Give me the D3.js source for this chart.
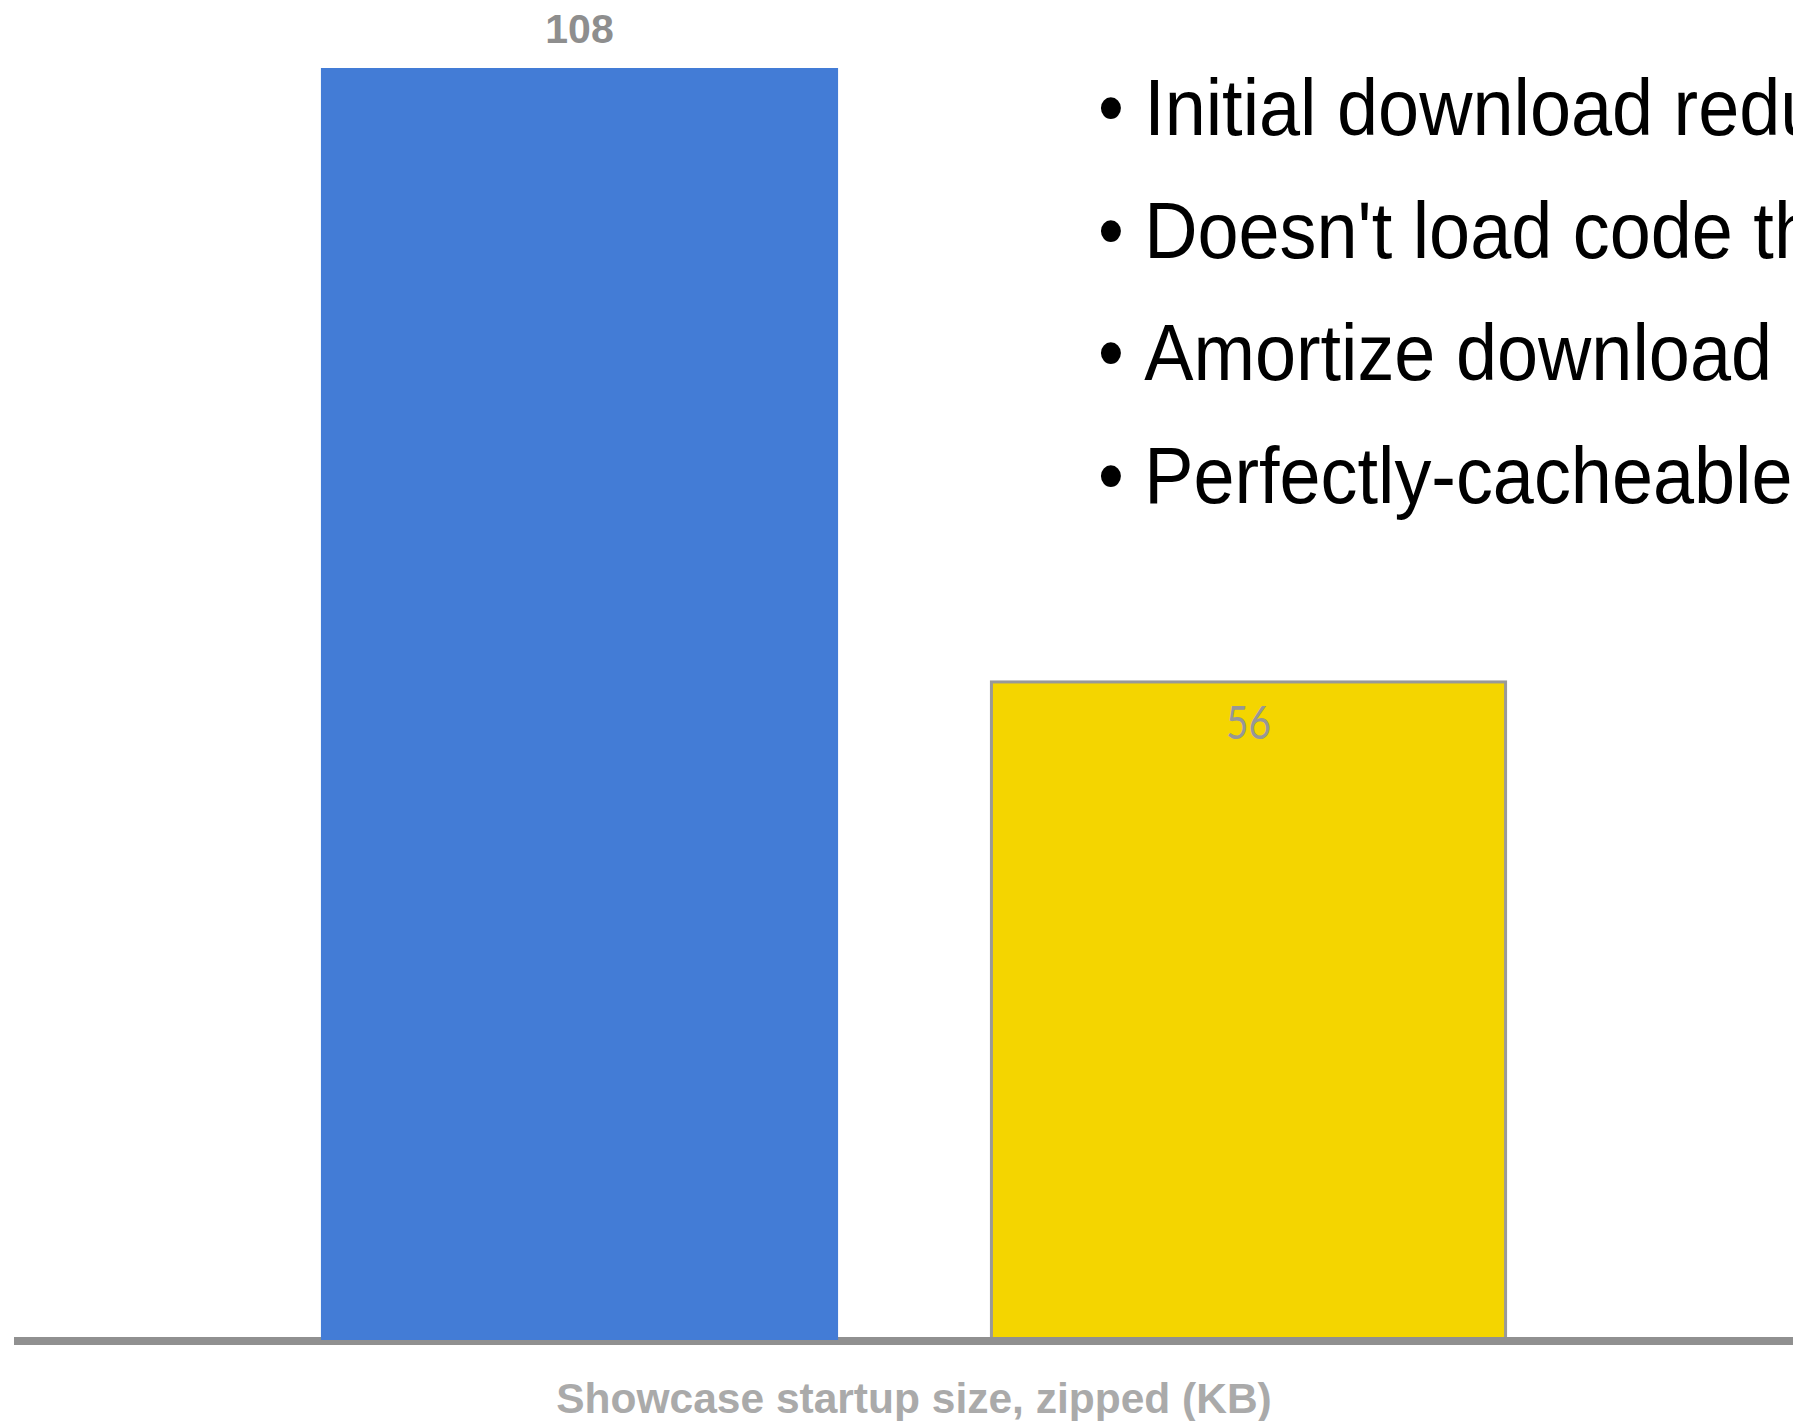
<!DOCTYPE html>
<html>
<head>
<meta charset="utf-8">
<script src="https://cdn.jsdelivr.net/npm/d3@7/dist/d3.min.js"></script>
<style>
  html, body { margin: 0; padding: 0; background: #fff; overflow: hidden; }
  svg { display: block; }
</style>
</head>
<body>
<div id="chart"></div>
<script>
var categories = ['Before', 'After'];
var values = [108, 56];
var valueLabels = ['108', '56'];
var bullets = [
    'Initial download reduced',
    "Doesn't load code that isn't needed",
    'Amortize download over app lifetime',
    'Perfectly-cacheable fragments'
];
var axisTitle = 'Showcase startup size, zipped (KB)';

var width = 1793;
var height = 1421;
var baseY = 1340;

var svg = d3.select('#chart')
    .append('svg')
    .attr('width', width)
    .attr('height', height);

var x = d3.scaleBand()
    .domain(categories)
    .range([245, 1583])
    .paddingInner(0.227)
    .paddingOuter(0.1135);

var y = d3.scaleLinear()
    .domain([0, 108])
    .range([baseY, 68]);

// yellow bar first, it sits under the axis line
svg.append('rect')
    .attr('x', x(categories[1]) + 1.5)
    .attr('y', y(values[1]) + 1.5)
    .attr('width', x.bandwidth() - 3)
    .attr('height', baseY - y(values[1]) - 1.5)
    .attr('fill', '#f4d500')
    .attr('stroke', '#999')
    .attr('stroke-width', 3);

// baseline
svg.append('rect')
    .attr('x', 14)
    .attr('y', baseY - 3)
    .attr('width', width - 14)
    .attr('height', 8)
    .attr('fill', '#909090');

// blue bar over the baseline
svg.append('rect')
    .attr('x', x(categories[0]))
    .attr('y', y(values[0]))
    .attr('width', x.bandwidth())
    .attr('height', baseY - y(values[0]))
    .attr('fill', '#437cd6');

// value labels
svg.append('text')
    .attr('x', x(categories[0]) + x.bandwidth() / 2)
    .attr('y', y(values[0]) - 25)
    .attr('text-anchor', 'middle')
    .style('font-family', '"Liberation Sans", Arial, sans-serif')
    .style('font-weight', 'bold')
    .style('font-size', '41px')
    .style('fill', '#8e8e8e')
    .text(valueLabels[0]);

svg.append('text')
    .attr('x', x(categories[1]) + x.bandwidth() / 2)
    .attr('y', y(values[1]) + 59)
    .attr('text-anchor', 'middle')
    .attr('textLength', 45)
    .attr('lengthAdjust', 'spacingAndGlyphs')
    .style('font-family', 'Lato, sans-serif')
    .style('font-size', '47px')
    .style('fill', '#979797')
    .text(valueLabels[1]);

// axis title
svg.append('text')
    .attr('x', 914)
    .attr('y', 1413)
    .attr('text-anchor', 'middle')
    .style('font-family', '"Liberation Sans", Arial, sans-serif')
    .style('font-weight', 'bold')
    .style('font-size', '42.5px')
    .style('fill', '#aaaaaa')
    .text(axisTitle);

// bullet list on the right, runs off the slide edge like the original
var list = svg.selectAll('.bullet')
    .data(bullets)
    .enter()
    .append('g')
    .attr('class', 'bullet')
    .attr('transform', function(d, i) {
        return 'translate(1098,' + (135 + i * 122.5) + ') scale(0.923,1)';
    });

list.append('text')
    .attr('x', 0)
    .style('font-family', '"Liberation Sans", Arial, sans-serif')
    .style('font-size', '80px')
    .style('fill', '#000')
    .text('\u2022');

list.append('text')
    .attr('x', 50)
    .style('font-family', '"Liberation Sans", Arial, sans-serif')
    .style('font-size', '80px')
    .style('fill', '#000')
    .text(function(d) { return d; });
</script>
</body>
</html>
